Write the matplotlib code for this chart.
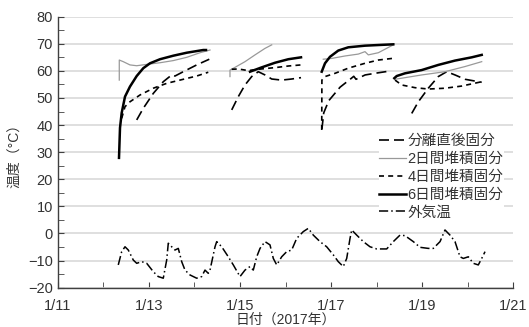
import datetime as dt
import numpy as np
import matplotlib
matplotlib.use('Agg')
import matplotlib.pyplot as plt
import matplotlib.dates as mdates
from matplotlib.ticker import MultipleLocator, FuncFormatter

plt.rcParams['font.family'] = ['Liberation Sans', 'Noto Sans CJK JP', 'DejaVu Sans']

nan = np.nan
base = mdates.date2num(dt.datetime(2017, 1, 11))

# days after 1/11 00:00, NaN splits the four sampling runs
sep_days = [1.73, 1.875, 2.095, 2.314, 2.499, 2.571, 2.754, 3.048, 3.325, nan,
            3.818, 3.963, 4.11, 4.257, 4.402, 4.549, 4.697, 4.916, 5.136, 5.341, nan,
            5.80, 5.84, 5.95, 6.2, 6.45, 6.50, 6.55, 6.75, 7.04, 7.319, nan,
            7.774, 7.919, 8.138, 8.358, 8.543, 8.725, 8.945, 9.312]
sep_temp = [41.9, 46.2, 51.7, 56.0, 58.5, 58.1, 59.7, 62.2, 64.3, nan,
            45.6, 50.5, 54.8, 57.9, 59.7, 58.5, 57.0, 56.6, 57.0, 57.5, nan,
            38.5, 44.5, 49.0, 54.0, 57.3, 58.0, 56.9, 58.5, 59.3, 60.0, nan,
            44.3, 48.6, 53.6, 57.9, 59.7, 58.5, 56.9, 55.8]

d2_days = [1.347, 1.347, 1.435, 1.582, 1.73, 1.95, 2.242, 2.534, 2.829, 3.121, 3.341, nan,
           3.78, 3.78, 3.89, 4.11, 4.33, 4.549, 4.697, nan,
           5.83, 6.015, 6.308, 6.6, 6.747, 6.82, 7.04, 7.187, 7.369, nan,
           7.407, 7.993, 8.505, 8.945, 9.312]
d2_temp = [56.6, 64.0, 63.4, 62.2, 61.9, 62.4, 63.0, 63.8, 65.0, 66.7, 67.7, nan,
           57.9, 60.3, 61.3, 63.4, 65.9, 68.3, 69.6, nan,
           64.3, 64.6, 65.5, 66.2, 67.1, 65.9, 66.7, 68.0, 69.6, nan,
           56.9, 58.5, 59.7, 61.6, 63.4]

d4_days = [1.40, 1.473, 1.582, 1.802, 2.095, 2.389, 2.754, 3.048, 3.303, nan,
           3.818, 3.963, 4.182, 4.402, 4.769, 5.062, 5.341, nan,
           5.796, 5.80, 5.868, 6.088, 6.38, 6.747, 7.04, 7.347, nan,
           7.407, 7.554, 7.846, 8.138, 8.505, 8.872, 9.312]
d4_temp = [42.5, 46.8, 48.6, 51.1, 53.6, 55.4, 56.9, 58.1, 59.5, nan,
           60.6, 60.7, 60.1, 60.6, 61.2, 61.8, 62.2, nan,
           38.2, 56.6, 57.9, 59.1, 61.0, 62.8, 64.0, 64.6, nan,
           56.6, 54.8, 53.8, 53.3, 53.6, 54.4, 56.0]

d6_days = [1.341, 1.363, 1.40, 1.473, 1.582, 1.73, 1.875, 2.022, 2.242, 2.534, 2.829, 3.193, 3.253, nan,
           4.22, 4.477, 4.769, 5.062, 5.341, nan,
           5.796, 5.868, 5.978, 6.16, 6.38, 6.747, 7.114, 7.369, nan,
           7.391, 7.444, 7.626, 7.993, 8.358, 8.725, 9.092, 9.312]
d6_temp = [27.9, 39.0, 44.5, 50.5, 54.2, 58.1, 61.0, 62.8, 64.3, 65.6, 66.7, 67.7, 67.7, nan,
           59.7, 61.3, 63.0, 64.3, 65.0, nan,
           59.7, 62.8, 65.2, 67.5, 68.7, 69.3, 69.6, 69.8, nan,
           57.3, 58.1, 59.1, 60.3, 62.2, 63.8, 65.0, 65.9]

air_days = [1.325, 1.40, 1.473, 1.545, 1.655, 1.73, 1.84, 1.95, 2.095, 2.204, 2.314,
            2.389, 2.424, 2.499, 2.571, 2.644, 2.719, 2.791, 2.901, 3.048, 3.158,
            3.231, 3.303, 3.341, 3.451, 3.488, 3.598, 3.743, 3.853, 4.0, 4.11,
            4.22, 4.292, 4.367, 4.44, 4.549, 4.659, 4.732, 4.807, 4.916, 5.026,
            5.136, 5.246, 5.391, 5.501, 5.611, 5.758, 5.905, 6.051, 6.160, 6.270,
            6.345, 6.418, 6.455, 6.565, 6.710, 6.857, 7.004, 7.224, 7.369, 7.516,
            7.626, 7.809, 7.956, 8.138, 8.248, 8.396, 8.505, 8.615, 8.725, 8.835,
            8.908, 9.018, 9.127, 9.237, 9.312, 9.385]
air_temp = [-11.6, -6.7, -4.9, -6.1, -9.8, -11.0, -10.4, -11.0, -14.1, -15.9, -16.5,
            -9.8, -3.6, -4.9, -6.1, -5.5, -10.4, -13.5, -15.3, -16.5, -15.9,
            -13.5, -14.7, -13.5, -4.9, -3.0, -4.9, -8.6, -11.6, -15.9, -13.5,
            -12.2, -13.5, -8.6, -5.5, -3.0, -4.2, -9.2, -11.6, -8.6, -6.7,
            -6.1, -1.8, 0.7, 1.9, -0.6, -3.0, -4.9, -7.9, -10.4, -12.2,
            -9.2, -1.8, 1.3, -0.6, -3.0, -4.9, -5.7, -5.7, -3.0, -0.6,
            -0.8, -3.0, -5.1, -5.5, -5.5, -3.0, 1.3, -0.6, -3.0, -8.6,
            -9.2, -8.6, -11.0, -11.6, -9.2, -6.7]

labels = ['分離直後固分', '2日間堆積固分', '4日間堆積固分', '6日間堆積固分', '外気温']

fig = plt.figure(figsize=(5.29, 3.27), dpi=100)
ax = fig.add_axes([0.1096, 0.1202, 0.8602, 0.8288])

t = lambda d: base + np.asarray(d, dtype=float)
ax.plot(t(sep_days), sep_temp, color='black', lw=1.2, dashes=(6, 3), label=labels[0])
ax.plot(t(d2_days), d2_temp, color='#999999', lw=0.9, label=labels[1])
ax.plot(t(d4_days), d4_temp, color='black', lw=1.2, dashes=(3, 2.5), label=labels[2])
ax.plot(t(d6_days), d6_temp, color='black', lw=1.8, label=labels[3])
ax.plot(t(air_days), air_temp, color='black', lw=1.1, dashes=(6, 2, 1, 2), label=labels[4])

ax.set_xlim(base, base + 10)
ax.set_ylim(-20, 80)
ax.xaxis.set_major_locator(mdates.DayLocator(interval=2))
ax.xaxis.set_minor_locator(mdates.DayLocator())
ax.xaxis.set_major_formatter(FuncFormatter(
    lambda v, p: '{}/{}'.format(mdates.num2date(v).month, mdates.num2date(v).day)))
ax.yaxis.set_major_locator(MultipleLocator(10))
ax.yaxis.set_minor_locator(MultipleLocator(5))

ax.grid(axis='y', which='major', color='#d9d9d9', lw=1.2)
ax.set_axisbelow(True)
for s in ['top', 'right']:
    ax.spines[s].set_visible(False)
for s in ['left', 'bottom']:
    ax.spines[s].set_color('#404040')
    ax.spines[s].set_linewidth(1.0)
ax.tick_params(which='both', direction='in', length=4, color='#404040',
               labelsize=10.5, labelcolor='#333333')
ax.tick_params(axis='x', pad=8)

ax.set_xlabel('日付（2017年）', fontsize=10, color='#333333', labelpad=0)
ax.set_ylabel('温度（°C）', fontsize=10, color='#333333', labelpad=5)

leg = ax.legend(loc='upper left', bbox_to_anchor=(372 / 529, 1 - 127 / 327),
                bbox_transform=fig.transFigure, fontsize=10.5, frameon=True,
                facecolor='white', edgecolor='none', framealpha=1, fancybox=False,
                handlelength=1.8, handletextpad=0.15, labelspacing=0.26, borderpad=0.0)
for txt in leg.get_texts():
    txt.set_color('#333333')

fig.savefig('out.png', dpi=100)
